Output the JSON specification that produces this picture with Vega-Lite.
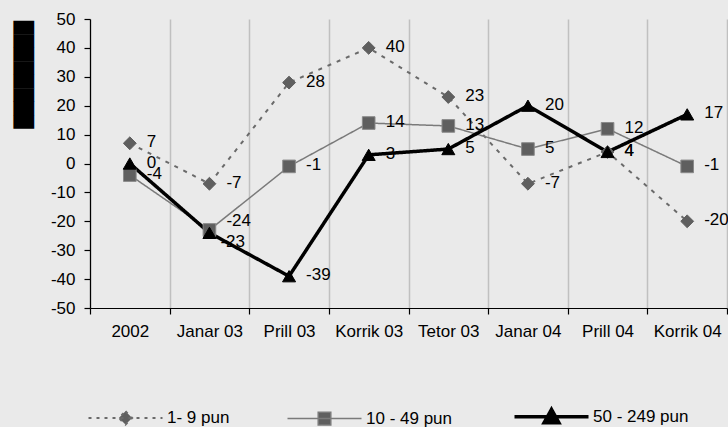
{
  "$schema": "https://vega.github.io/schema/vega-lite/v6.json",
  "width": 637,
  "height": 289,
  "autosize": {"type": "none"},
  "padding": {"left": 90, "top": 19, "right": 1, "bottom": 119},
  "background": "#EAEAEA",
  "config": {
    "view": {"stroke": null},
    "font": "Liberation Sans",
    "axis": {"labelFont": "Liberation Sans", "labelFontSize": 17, "labelColor": "#000000", "domainColor": "#000000", "tickColor": "#000000", "tickSize": 6, "domainWidth": 1.2, "tickWidth": 1.2}
  },
  "data": {"values": [
    {"period": "2002", "series": "1- 9 pun", "value": 7},
    {"period": "Janar 03", "series": "1- 9 pun", "value": -7},
    {"period": "Prill 03", "series": "1- 9 pun", "value": 28},
    {"period": "Korrik 03", "series": "1- 9 pun", "value": 40},
    {"period": "Tetor 03", "series": "1- 9 pun", "value": 23},
    {"period": "Janar 04", "series": "1- 9 pun", "value": -7},
    {"period": "Prill 04", "series": "1- 9 pun", "value": 4},
    {"period": "Korrik 04", "series": "1- 9 pun", "value": -20},
    {"period": "2002", "series": "10 - 49 pun", "value": -4},
    {"period": "Janar 03", "series": "10 - 49 pun", "value": -23},
    {"period": "Prill 03", "series": "10 - 49 pun", "value": -1},
    {"period": "Korrik 03", "series": "10 - 49 pun", "value": 14},
    {"period": "Tetor 03", "series": "10 - 49 pun", "value": 13},
    {"period": "Janar 04", "series": "10 - 49 pun", "value": 5},
    {"period": "Prill 04", "series": "10 - 49 pun", "value": 12},
    {"period": "Korrik 04", "series": "10 - 49 pun", "value": -1},
    {"period": "2002", "series": "50 - 249 pun", "value": 0},
    {"period": "Janar 03", "series": "50 - 249 pun", "value": -24},
    {"period": "Prill 03", "series": "50 - 249 pun", "value": -39},
    {"period": "Korrik 03", "series": "50 - 249 pun", "value": 3},
    {"period": "Tetor 03", "series": "50 - 249 pun", "value": 5},
    {"period": "Janar 04", "series": "50 - 249 pun", "value": 20},
    {"period": "Prill 04", "series": "50 - 249 pun", "value": 4},
    {"period": "Korrik 04", "series": "50 - 249 pun", "value": 17}
  ]},
  "encoding": {
    "x": {
      "field": "period", "type": "nominal", "bandPosition": 0.5,
      "sort": ["2002", "Janar 03", "Prill 03", "Korrik 03", "Tetor 03", "Janar 04", "Prill 04", "Korrik 04"],
      "scale": {"type": "band", "paddingInner": 0, "paddingOuter": 0},
      "axis": {"title": null, "labelAngle": 0, "tickBand": "extent", "grid": true, "gridColor": "#C0C0C0", "gridWidth": 1.5, "labelPadding": 9}
    },
    "y": {
      "field": "value", "type": "quantitative",
      "scale": {"domain": [-50, 50], "nice": false, "zero": false},
      "axis": {"values": [-50, -40, -30, -20, -10, 0, 10, 20, 30, 40, 50], "grid": false, "labelPadding": 9,
        "labelExpr": "'' + datum.value",
        "title": "████████", "titleFont": "DejaVu Sans", "titleFontSize": 17.5, "titleColor": "#000000", "titleFontWeight": "normal",
        "titleAngle": -90, "titleX": -66, "titleY": 55.5, "titleAlign": "center", "titleBaseline": "middle"}
    }
  },
  "layer": [
    {
      "mark": {"type": "line"},
      "encoding": {
        "color": {"field": "series", "type": "nominal",
          "scale": {"domain": ["1- 9 pun", "10 - 49 pun", "50 - 249 pun"], "range": ["#6a6a6a", "#7a7a7a", "#000000"]},
          "legend": {
            "orient": "none", "legendX": 27, "legendY": 389, "direction": "horizontal", "title": null,
            "padding": 0, "symbolSize": 5476, "labelOffset": 33, "columnPadding": 54,
            "labelFont": "Liberation Sans", "labelFontSize": 17, "labelColor": "#000000",
            "encode": {"symbols": {"update": {
              "shape": {"signal": "datum.value === '1- 9 pun' ? 'M-1,0L1,0M0,-0.18L0.18,0L0,0.18L-0.18,0Z' : datum.value === '10 - 49 pun' ? 'M-1,0L1,0M-0.17,-0.17L0.17,-0.17L0.17,0.17L-0.17,0.17Z' : 'M-1,0L1,0M0,-0.2L0.2,0.16L-0.2,0.16Z'"},
              "fill": {"signal": "datum.value === '50 - 249 pun' ? '#000000' : '#5f5f5f'"},
              "stroke": {"signal": "datum.value === '50 - 249 pun' ? '#000000' : (datum.value === '10 - 49 pun' ? '#7a7a7a' : '#6a6a6a')"},
              "strokeWidth": {"signal": "datum.value === '50 - 249 pun' ? 3.5 : (datum.value === '10 - 49 pun' ? 1.5 : 2)"},
              "strokeDash": {"signal": "datum.value === '1- 9 pun' ? [3, 5] : [1, 0]"},
              "opacity": {"value": 1}
            }}}
          }
        },
        "strokeDash": {"condition": {"test": "datum.series === '1- 9 pun'", "value": [4, 6]}, "value": [1, 0]},
        "strokeWidth": {"condition": [{"test": "datum.series === '50 - 249 pun'", "value": 3.5}, {"test": "datum.series === '10 - 49 pun'", "value": 1.5}], "value": 2}
      }
    },
    {
      "transform": [{"filter": "datum.series === '1- 9 pun'"}],
      "mark": {"type": "point", "shape": "diamond", "filled": true, "size": 165, "fill": "#5f5f5f", "stroke": "#5f5f5f", "strokeWidth": 1, "opacity": 1}
    },
    {
      "transform": [{"filter": "datum.series === '10 - 49 pun'"}],
      "mark": {"type": "point", "shape": "square", "filled": true, "size": 160, "fill": "#5f5f5f", "stroke": "#8a8a8a", "strokeWidth": 1, "opacity": 1}
    },
    {
      "transform": [{"filter": "datum.series === '50 - 249 pun'"}],
      "mark": {"type": "point", "shape": "triangle-up", "filled": true, "size": 170, "fill": "#000000", "stroke": "#000000", "strokeWidth": 1, "opacity": 1}
    },
    {
      "transform": [{"filter": "!(datum.period === 'Janar 03' && datum.series !== '1- 9 pun')"}],
      "mark": {"type": "text", "align": "left", "baseline": "middle", "dx": 17, "dy": -1, "fontSize": 17, "font": "Liberation Sans", "color": "#000000"},
      "encoding": {"text": {"field": "value", "type": "nominal"}}
    },
    {
      "transform": [{"filter": "datum.period === 'Janar 03' && datum.series === '50 - 249 pun'"}],
      "mark": {"type": "text", "align": "left", "baseline": "middle", "dx": 17, "dy": -12, "fontSize": 17, "font": "Liberation Sans", "color": "#000000"},
      "encoding": {"text": {"field": "value", "type": "nominal"}}
    },
    {
      "transform": [{"filter": "datum.period === 'Janar 03' && datum.series === '10 - 49 pun'"}],
      "mark": {"type": "text", "align": "left", "baseline": "middle", "dx": 11, "dy": 12, "fontSize": 17, "font": "Liberation Sans", "color": "#000000"},
      "encoding": {"text": {"field": "value", "type": "nominal"}}
    }
  ]
}
